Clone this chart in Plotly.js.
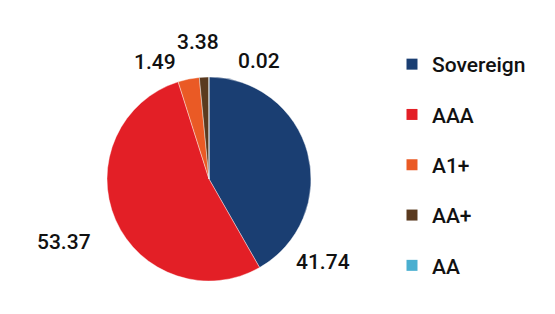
<!DOCTYPE html>
<html><head><meta charset="utf-8">
<script src="https://cdn.plot.ly/plotly-3.0.1.min.js"></script>
<style>html,body{margin:0;padding:0;background:#fff}#chart{width:555px;height:314px}</style>
</head><body><div id="chart"></div>
<script>
const categories = ["Sovereign", "AAA", "A1+", "AA+", "AA"];
const values = [41.74, 53.37, 3.38, 1.49, 0.02];
const colors = ["#1a3e72", "#e31f26", "#ea5a25", "#5a3a1f", "#4aafd0"];
// label anchor positions (pixels) for value labels, in category order
const labelPos = [[323, 262], [64, 242], [198, 42], [155, 62], [259, 61]];

const W = 555, H = 314;
const cx = 209, cy = 179, r = 102;
const font = {family: "Roboto, sans-serif", size: 21, weight: 500, color: "#111"};

const traces = [{
  type: "pie",
  labels: categories,
  values: values,
  sort: false,
  direction: "clockwise",
  rotation: 0,
  textinfo: "none",
  hoverinfo: "label+value",
  marker: {colors: colors, line: {color: "#fff", width: 0.4}},
  domain: {x: [(cx - r) / W, (cx + r) / W], y: [(H - cy - r) / H, (H - cy + r) / H]},
  showlegend: false
}];
categories.forEach((c, i) => {
  traces.push({
    type: "scatter", mode: "markers", x: [null], y: [null], name: c,
    legendgroup: c, showlegend: true,
    marker: {symbol: "square", size: 11, color: colors[i]}
  });
});

const annotations = values.map((v, i) => ({
  text: v.toFixed(2), showarrow: false,
  xref: "paper", yref: "paper",
  x: labelPos[i][0] / W, y: 1 - labelPos[i][1] / H,
  xanchor: "center", yanchor: "middle", font: font
}));

const layout = {
  width: W, height: H,
  margin: {l: 0, r: 0, t: 0, b: 0},
  paper_bgcolor: "#fff", plot_bgcolor: "#fff",
  xaxis: {visible: false}, yaxis: {visible: false},
  showlegend: true,
  legend: {x: 392 / W, y: 1 - 44 / H, xanchor: "left", yanchor: "top",
           font: font, tracegroupgap: 20, itemwidth: 30, bgcolor: "rgba(0,0,0,0)"},
  annotations: annotations,
  font: font
};
Plotly.newPlot("chart", traces, layout, {displayModeBar: false, staticPlot: true});
</script></body></html>
